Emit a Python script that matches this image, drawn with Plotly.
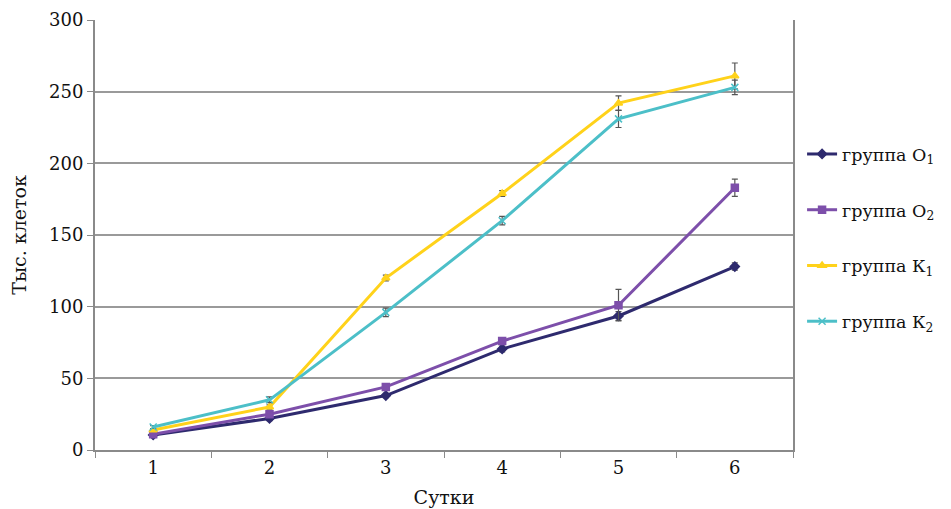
import plotly.graph_objects as go

days = ["1", "2", "3", "4", "5", "6"]
o1 = [10.5, 22, 38, 70.5, 93.5, 128]
o1_err = [1, 1.5, 1.5, 2, 3, 2.5]
o2 = [11, 25, 44, 76, 101, 183]
o2_err = [1, 1.5, 2, 2, 11, 6]
k1 = [14, 30, 120, 179, 242, 261]
k1_err = [1, 1.5, 2, 2, 5, 9]
k2 = [16, 35, 96, 160, 231, 253]
k2_err = [1, 2, 3, 3, 6, 5]

names = ["группа О<sub>1</sub>", "группа О<sub>2</sub>", "группа К<sub>1</sub>", "группа К<sub>2</sub>"]
colors = ["#2E2A6E", "#7D4FAA", "#FFD21A", "#4CBFC8"]
symbols = ["diamond", "square", "triangle-up", "x-thin-open"]
series = [(o1, o1_err), (o2, o2_err), (k1, k1_err), (k2, k2_err)]

fig = go.Figure()
for i, (vals, err) in enumerate(series):
    fig.add_trace(go.Scatter(
        x=days, y=vals, name=names[i], mode="lines+markers",
        legendgroup=str(i),
        line=dict(color=colors[i], width=3),
        marker=dict(symbol=symbols[i], size=7, color=colors[i],
                    line=dict(color=colors[i], width=1.5)),
        error_y=dict(type="data", array=err, visible=True,
                     color="#555555", thickness=1.2, width=3),
    ))

serif = "DejaVu Serif"
fig.update_layout(
    width=943, height=501,
    margin=dict(l=87, r=158, t=12, b=59, autoexpand=False),
    paper_bgcolor="white", plot_bgcolor="white",
    font=dict(family=serif, size=18, color="#111111"),
    showlegend=True,
    legend=dict(x=1.013, y=0.73, xanchor="left", yanchor="top",
                font=dict(family=serif, size=17.5, color="#111111"),
                tracegroupgap=30, itemwidth=30, bgcolor="rgba(0,0,0,0)"),
    xaxis=dict(type="category", range=[-0.5, 5.5], automargin=False,
               showline=True, linecolor="#8a8a8a", linewidth=2,
               ticks="outside", tickson="boundaries", ticklen=6,
               tickcolor="#8a8a8a", showgrid=False,
               title=dict(text="Сутки", font=dict(family=serif, size=19), standoff=14),
               tickfont=dict(family=serif, size=18)),
    yaxis=dict(range=[0, 300], dtick=50, tick0=0, automargin=False,
               showline=True, linecolor="#8a8a8a", linewidth=2, mirror=True,
               ticks="outside", ticklen=6, tickcolor="#8a8a8a",
               showgrid=True, gridcolor="#9a9a9a", gridwidth=1.5,
               zeroline=False,
               title=dict(text="Тыс. клеток", font=dict(family=serif, size=19), standoff=26),
               tickfont=dict(family=serif, size=18)),
)
fig.write_html("out.html")
